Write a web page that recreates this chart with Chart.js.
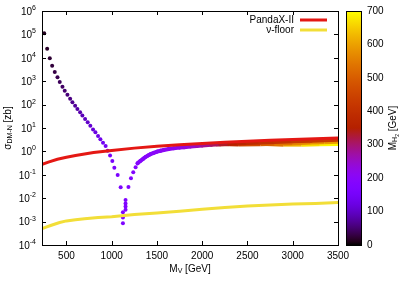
<!DOCTYPE html>
<html>
<head>
<meta charset="utf-8">
<script src="https://cdn.jsdelivr.net/npm/chart.js@4.4.1/dist/chart.umd.min.js"></script>
<style>
  html, body { margin: 0; padding: 0; background: #fff; }
  canvas { display: block; }
</style>
</head>
<body>
<canvas id="chart" width="409" height="286"></canvas>
<script>
// axis ticks
let xTicks = [500, 1000, 1500, 2000, 2500, 3000, 3500]
let yExponents = [-4, -3, -2, -1, 0, 1, 2, 3, 4, 5, 6]

// PandaX-II limit
let pandaMV = [232, 300, 400, 500, 600, 700, 800, 900, 1000, 1250, 1500, 1750, 2000, 2250, 2500, 2750, 3000, 3250, 3500]
let pandaSigma = [0.28, 0.35, 0.46, 0.56, 0.67, 0.78, 0.89, 1.0, 1.1, 1.38, 1.65, 1.92, 2.2, 2.45, 2.72, 2.98, 3.25, 3.5, 3.78]

// neutrino floor
let floorMV = [232, 275, 325, 375, 425, 500, 600, 700, 850, 1000, 1250, 1500, 1750, 2000, 2250, 2500, 2750, 3000, 3250, 3500]
let floorSigma = [5.0e-4, 5.8e-4, 6.8e-4, 7.9e-4, 9.1e-4, 1.07e-3, 1.2e-3, 1.32e-3, 1.48e-3, 1.62e-3, 2.0e-3, 2.34e-3, 2.8e-3, 3.4e-3, 4.0e-3, 4.6e-3, 5.1e-3, 5.6e-3, 6.0e-3, 6.5e-3]

// scan points drawn as single dots
let scanMV = [254, 287, 316, 342, 371, 401, 426, 456, 481, 511, 541, 566, 596, 621, 651, 676, 706, 735, 764, 794,
  820, 849, 875, 904, 933, 955, 982, 1007, 1029, 1066, 1099, 1124, 1124, 1124, 1153, 1153, 1153, 1153, 1185, 1213,
  1238, 1264, 1286]
let scanSigma = [1.12e5, 2.45e4, 9.5e3, 4.6e3, 2.45e3, 1.48e3, 930, 575, 390, 263, 178, 126, 89, 65, 47, 34, 24, 17.4, 12.6, 8.7,
  6.6, 4.6, 3.3, 2.34, 1.7, 1.07, 0.66, 0.39, 0.20, 0.098, 0.0295, 2.5e-3, 1.5e-3, 8.5e-4, 8.3e-3, 6.0e-3, 4.4e-3, 3.2e-3, 0.030, 0.071,
  0.129, 0.21, 0.31]
let scanMH2 = [14, 18, 22, 26, 30, 35, 40, 45, 50, 55, 60, 66, 72, 78, 84, 90, 96, 102, 108, 114,
  120, 126, 132, 138, 144, 148, 152, 156, 160, 164, 168, 172, 172, 172, 175, 175, 175, 175, 178, 180,
  182, 184, 186]

// dense part of the scan, three strands
let strand1MV = [1286, 1318, 1350, 1373, 1400, 1428, 1465, 1502, 1540, 1575, 1630, 1685, 1750, 1800, 1870, 1940, 2000, 2100, 2200, 2300, 2400, 2500, 2640, 2800, 3000, 3200, 3350, 3500]
let strand1Sigma = [0.309, 0.398, 0.49, 0.575, 0.661, 0.759, 0.871, 0.977, 1.07, 1.15, 1.26, 1.35, 1.45, 1.51, 1.62, 1.72, 1.8, 1.92, 2.0, 2.1, 2.2, 2.3, 2.42, 2.55, 2.72, 2.86, 3.0, 3.12]
let strand1MH2 = [186, 188, 190, 192, 194, 196, 198, 200, 203, 206, 210, 215, 220, 228, 240, 255, 270, 295, 320, 345, 365, 380, 395, 405, 415, 425, 430, 435]

let strand2MV = [2150, 2300, 2400, 2640, 2800, 3000, 3200, 3350, 3500]
let strand2Sigma = [1.96, 1.95, 1.93, 1.97, 2.06, 2.2, 2.32, 2.42, 2.5]
let strand2MH2 = [330, 400, 440, 495, 520, 550, 575, 590, 600]

let strand3MV = [2700, 2900, 3100, 3300, 3500]
let strand3Sigma = [2.0, 1.9, 1.9, 1.96, 2.04]
let strand3MH2 = [510, 600, 650, 685, 700]

const FONT = '"Liberation Sans", Arial, sans-serif'

// gnuplot default palette (rgbformulae 7,5,15), 0..700 GeV
function palette(v) {
    let x = Math.min(1, Math.max(0, v / 700))
    let r = Math.sqrt(x), g = x * x * x, b = Math.max(0, Math.sin(2 * Math.PI * x))
    return 'rgb(' + Math.round(r * 255) + ',' + Math.round(g * 255) + ',' + Math.round(b * 255) + ')'
}

function pairs(xs, ys) {
    return xs.map((v, i) => ({x: v, y: ys[i]}))
}

function strand(xs, ys, mh, width, cap) {
    return {
        data: pairs(xs, ys),
        showLine: true,
        pointRadius: 0,
        borderWidth: width,
        borderCapStyle: cap,
        borderJoinStyle: 'round',
        segment: {
            borderColor: c => palette((mh[c.p0DataIndex] + mh[c.p1DataIndex]) / 2)
        }
    }
}

// fixed box sizes, no extra label padding
function fixBox(w, h) {
    return s => {
        if (w != null) s.width = w
        if (h != null) s.height = h
        s.paddingTop = 0
        s.paddingBottom = 0
        s.paddingLeft = 0
        s.paddingRight = 0
    }
}

// draw text made of pieces with sub/superscripts, centred at (0,0)
function drawPieces(ctx, pieces) {
    let total = 0
    pieces.forEach(p => {
        ctx.font = p.size + 'px ' + FONT
        p.w = ctx.measureText(p.t).width
        total += p.w
    })
    let x = -total / 2
    ctx.textAlign = 'left'
    ctx.textBaseline = 'middle'
    pieces.forEach(p => {
        ctx.font = p.size + 'px ' + FONT
        ctx.fillText(p.t, x, p.dy || 0)
        x += p.w
    })
}

const decor = {
    id: 'decor',
    afterDraw(chart) {
        let ctx = chart.ctx
        let a = chart.chartArea
        let xs = chart.scales.x, ys = chart.scales.y
        ctx.save()
        ctx.fillStyle = '#000'
        ctx.strokeStyle = '#000'
        ctx.lineWidth = 1

        // frame
        ctx.strokeRect(Math.round(a.left) + 0.5, Math.round(a.top) + 0.5,
            Math.round(a.right - a.left), Math.round(a.bottom - a.top))

        // inward ticks
        ctx.beginPath()
        xTicks.forEach(v => {
            let px = Math.round(xs.getPixelForValue(v)) + 0.5
            ctx.moveTo(px, a.bottom); ctx.lineTo(px, a.bottom - 4)
            ctx.moveTo(px, a.top); ctx.lineTo(px, a.top + 4)
        })
        yExponents.forEach(e => {
            let py = Math.round(ys.getPixelForValue(Math.pow(10, e))) + 0.5
            ctx.moveTo(a.left, py); ctx.lineTo(a.left + 4, py)
            ctx.moveTo(a.right, py); ctx.lineTo(a.right - 4, py)
        })
        ctx.stroke()

        // y tick labels 10^n
        yExponents.forEach(e => {
            let py = ys.getPixelForValue(Math.pow(10, e))
            ctx.font = '10px ' + FONT
            let wb = ctx.measureText('10').width
            ctx.font = '7px ' + FONT
            let we = ctx.measureText(String(e)).width
            let right = a.left - 6
            ctx.textAlign = 'left'
            ctx.textBaseline = 'middle'
            ctx.font = '10px ' + FONT
            ctx.fillText('10', right - we - wb, py + 1)
            ctx.font = '7px ' + FONT
            ctx.fillText(String(e), right - we, py - 3)
        })

        // colour bar
        let cx = a.right + 8, cw = 15
        let grad = ctx.createLinearGradient(0, a.bottom, 0, a.top)
        for (let i = 0; i <= 70; i++) grad.addColorStop(i / 70, palette(i * 10))
        ctx.fillStyle = grad
        ctx.fillRect(cx, a.top, cw, a.bottom - a.top)
        ctx.strokeRect(cx + 0.5, Math.round(a.top) + 0.5, cw, Math.round(a.bottom - a.top))
        ctx.fillStyle = '#000'

        // axis titles
        ctx.save()
        ctx.translate(8, (a.top + a.bottom) / 2)
        ctx.rotate(-Math.PI / 2)
        drawPieces(ctx, [{t: 'σ', size: 10}, {t: 'DM-N', size: 7, dy: 2.5}, {t: ' [zb]', size: 10}])
        ctx.restore()

        ctx.save()
        ctx.translate((a.left + a.right) / 2, 269)
        drawPieces(ctx, [{t: 'M', size: 10}, {t: 'V', size: 7, dy: 2.5}, {t: ' [GeV]', size: 10}])
        ctx.restore()

        ctx.save()
        ctx.translate(393, (a.top + a.bottom) / 2)
        ctx.rotate(-Math.PI / 2)
        drawPieces(ctx, [{t: 'M', size: 10}, {t: 'H', size: 7, dy: 2.5}, {t: '2', size: 5, dy: 4.5}, {t: ' [GeV]', size: 10}])
        ctx.restore()

        // key
        ctx.font = '10px ' + FONT
        ctx.textAlign = 'right'
        ctx.textBaseline = 'middle'
        ctx.fillText('PandaX-II', 294, 20)
        ctx.fillText('ν-floor', 294, 30)
        ctx.lineWidth = 3
        ctx.strokeStyle = 'rgb(228,24,20)'
        ctx.beginPath(); ctx.moveTo(300, 20); ctx.lineTo(327, 20); ctx.stroke()
        ctx.strokeStyle = 'rgb(242,222,56)'
        ctx.beginPath(); ctx.moveTo(300, 30); ctx.lineTo(327, 30); ctx.stroke()
        ctx.restore()
    }
}

let chart = new Chart(document.getElementById('chart'), {
    type: 'scatter',
    data: {
        datasets: [
            {
                label: 'PandaX-II',
                data: pairs(pandaMV, pandaSigma),
                showLine: true,
                pointRadius: 0,
                borderWidth: 3,
                borderColor: 'rgb(228,24,20)'
            },
            {
                label: 'ν-floor',
                data: pairs(floorMV, floorSigma),
                showLine: true,
                pointRadius: 0,
                borderWidth: 3,
                borderColor: 'rgb(242,222,56)'
            },
            strand(strand1MV, strand1Sigma, strand1MH2, 4, 'round'),
            strand(strand2MV, strand2Sigma, strand2MH2, 3.5, 'butt'),
            strand(strand3MV, strand3Sigma, strand3MH2, 3.5, 'butt'),
            {
                data: pairs(scanMV, scanSigma),
                pointRadius: 2,
                borderWidth: 0,
                backgroundColor: c => palette(scanMH2[c.dataIndex])
            }
        ]
    },
    options: {
        responsive: false,
        animation: false,
        layout: {padding: {top: 11, left: 0, right: 0, bottom: 0}},
        plugins: {legend: {display: false}, tooltip: {enabled: false}},
        scales: {
            x: {
                type: 'linear',
                min: 230,
                max: 3500,
                afterBuildTicks: s => { s.ticks = xTicks.map(v => ({value: v})) },
                afterFit: fixBox(null, 41),
                grid: {display: false, drawTicks: false},
                border: {display: false},
                ticks: {color: '#000', font: {family: FONT, size: 10}, padding: 5, autoSkip: false, maxRotation: 0,
                    callback: v => String(v)}
            },
            y: {
                type: 'logarithmic',
                min: 1e-4,
                max: 1e6,
                afterFit: fixBox(42, null),
                grid: {display: false, drawTicks: false},
                border: {display: false},
                ticks: {display: false}
            },
            c: {
                axis: 'y',
                type: 'linear',
                position: 'right',
                min: 0,
                max: 700,
                afterFit: fixBox(71, null),
                grid: {display: false, drawTicks: false},
                border: {display: false},
                ticks: {stepSize: 100, color: '#000', font: {family: FONT, size: 10}, padding: 29}
            }
        }
    },
    plugins: [decor]
})
</script>
</body>
</html>
